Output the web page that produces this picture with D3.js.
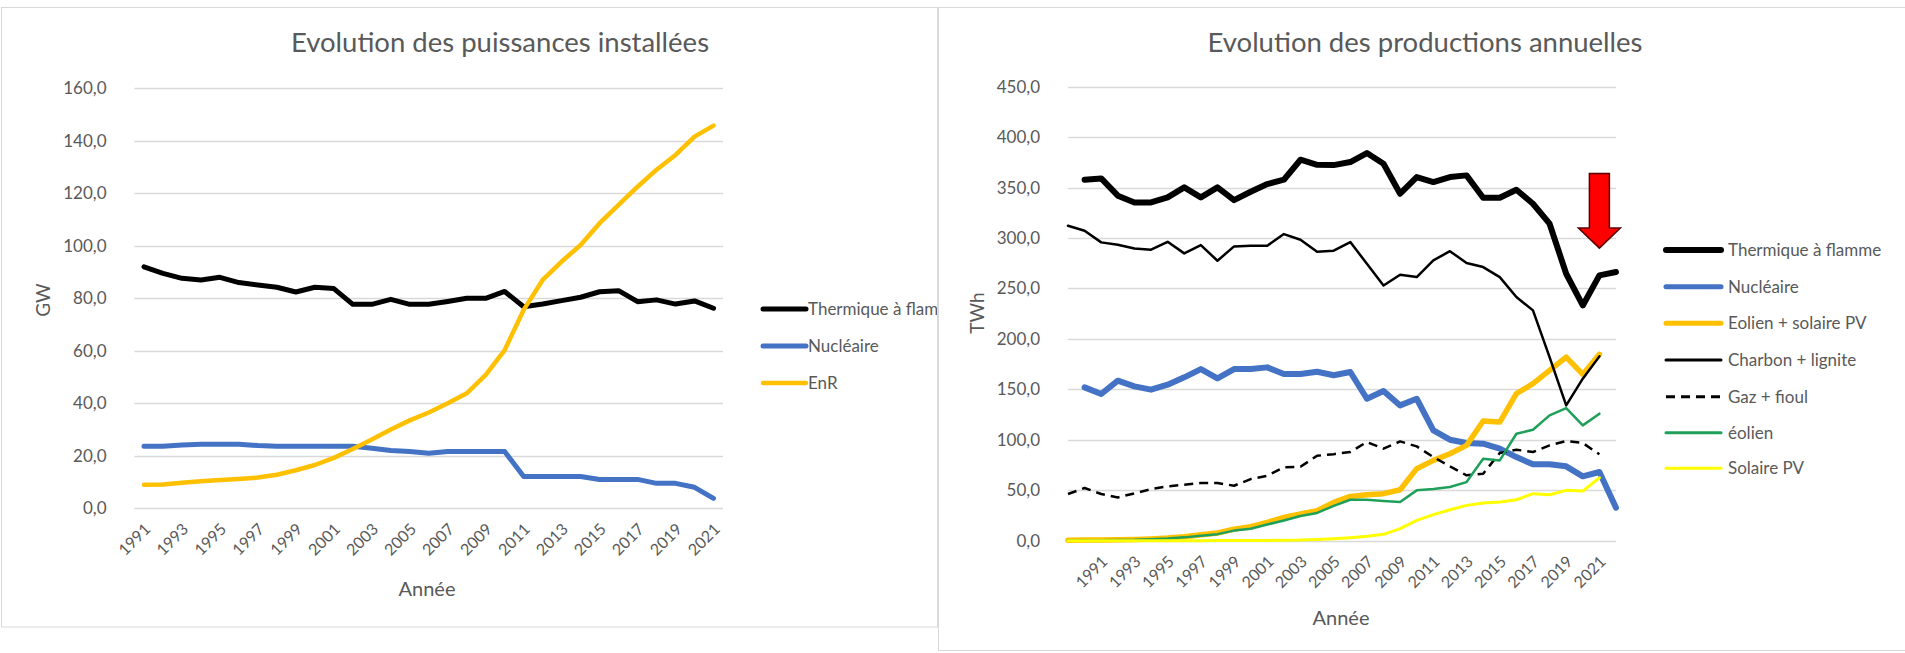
<!DOCTYPE html>
<html>
<head>
<meta charset="utf-8">
<script src="https://cdn.jsdelivr.net/npm/d3@7"></script>
<style>
  html, body { margin: 0; padding: 0; background: #fff; }
  svg { display: block; font-family: Lato, "Open Sans", sans-serif; }
</style>
</head>
<body>
<svg id="chart" width="1905" height="653"></svg>
<script>
// ---- Installed capacity (GW) ----
const capYears = [1991, 1992, 1993, 1994, 1995, 1996, 1997, 1998, 1999, 2000,
  2001, 2002, 2003, 2004, 2005, 2006, 2007, 2008, 2009, 2010,
  2011, 2012, 2013, 2014, 2015, 2016, 2017, 2018, 2019, 2020, 2021];
const capThermique = [92.0, 89.5, 87.6, 87.0, 88.0, 86.0, 85.1, 84.2, 82.4, 84.2,
  83.7, 77.7, 77.7, 79.6, 77.7, 77.7, 78.8, 80.0, 80.0, 82.6,
  76.8, 77.8, 79.1, 80.4, 82.5, 82.9, 78.7, 79.4, 77.8, 79.0, 76.2];
const capNucleaire = [23.6, 23.6, 24.1, 24.4, 24.4, 24.4, 23.9, 23.6, 23.6, 23.6,
  23.6, 23.6, 22.9, 22.0, 21.6, 21.0, 21.6, 21.6, 21.6, 21.6,
  12.1, 12.1, 12.1, 12.1, 11.0, 11.0, 11.0, 9.5, 9.5, 8.0, 3.8];
const capEnR = [9.0, 9.1, 9.7, 10.3, 10.8, 11.2, 11.7, 12.8, 14.5, 16.5,
  19.2, 22.6, 26.2, 30.0, 33.5, 36.5, 40.0, 43.8, 50.8, 60.3,
  75.6, 87.0, 94.0, 100.3, 108.6, 115.6, 122.5, 129.0, 134.6, 141.6, 145.8];
const capTicks = [0, 20, 40, 60, 80, 100, 120, 140, 160];

// ---- Annual production (TWh) ----
const prodCategories = [1989, 1990, 1991, 1992, 1993, 1994, 1995, 1996, 1997, 1998,
  1999, 2000, 2001, 2002, 2003, 2004, 2005, 2006, 2007, 2008,
  2009, 2010, 2011, 2012, 2013, 2014, 2015, 2016, 2017, 2018,
  2019, 2020, 2021, 2022];
// these two series start one category later (1990 → 2022)
const prodThermique = [357.8, 359.1, 342.0, 335.3, 335.3, 340.3, 350.2, 340.3, 350.2, 337.6,
  345.9, 353.5, 357.8, 377.6, 372.6, 372.3, 375.3, 384.2, 373.6, 343.9,
  360.4, 355.5, 360.4, 362.1, 339.9, 339.9, 347.9, 334.0, 314.2, 264.6,
  233.2, 263.0, 266.3];
const prodNucleaire = [152.0, 145.4, 158.6, 153.0, 149.7, 154.6, 161.9, 170.1, 160.9, 170.1,
  170.1, 171.8, 165.2, 165.2, 167.5, 164.0, 167.2, 140.7, 148.3, 134.1,
  140.7, 109.4, 100.1, 96.8, 96.1, 91.2, 82.9, 75.7, 75.7, 73.7,
  63.8, 68.1, 32.7];
// the following series cover 1989 → 2021
const prodEolienSolaire = [0.5, 0.6, 0.8, 1.0, 1.3, 1.8, 2.6, 4.0, 6.0, 7.6,
  11.5, 13.9, 18.2, 23.0, 26.4, 29.7, 38.0, 43.9, 45.6, 46.6,
  50.5, 71.4, 79.6, 86.2, 94.5, 118.6, 117.6, 145.7, 155.6, 168.8,
  182.0, 164.8, 184.7];
const prodCharbon = [312.2, 307.2, 295.7, 293.4, 289.7, 288.4, 296.3, 284.8, 293.0, 277.5,
  291.7, 292.4, 292.4, 303.9, 298.3, 286.4, 287.5, 296.0, 274.5, 253.0,
  263.6, 261.3, 277.8, 287.0, 275.2, 271.2, 261.3, 241.5, 228.3, 182.0,
  134.1, 160.6, 182.7];
const prodGazFioul = [46.3, 52.2, 46.3, 42.9, 46.9, 51.2, 53.8, 55.5, 57.2, 57.2,
  54.5, 61.1, 64.4, 72.7, 73.3, 84.2, 85.8, 87.9, 97.8, 91.2,
  98.4, 93.5, 82.9, 73.7, 64.8, 66.4, 86.9, 90.2, 87.9, 94.5,
  98.8, 96.8, 85.6];
const prodEolien = [0.3, 0.4, 0.5, 0.7, 0.9, 1.5, 2.2, 3.3, 5.0, 6.5,
  10.0, 11.8, 16.0, 20.0, 24.5, 27.5, 34.5, 40.6, 40.6, 39.3,
  38.3, 49.9, 51.2, 53.2, 58.1, 81.3, 79.6, 106.0, 110.0, 124.2,
  131.5, 114.3, 125.9];
const prodSolaire = [0, 0, 0, 0, 0, 0, 0, 0, 0, 0.1,
  0.1, 0.2, 0.3, 0.4, 0.6, 1.3, 2.0, 3.0, 4.3, 6.3,
  11.9, 20.2, 25.8, 30.7, 35.0, 37.3, 38.3, 40.6, 46.6, 45.6,
  49.9, 49.2, 62.4];
const prodTicks = [0, 50, 100, 150, 200, 250, 300, 350, 400, 450];

// odd years shown on both category axes
const yearLabels = [1991, 1993, 1995, 1997, 1999, 2001, 2003, 2005,
  2007, 2009, 2011, 2013, 2015, 2017, 2019, 2021];

// downward arrow on the production chart (category, values in TWh)
const arrowYear = 2021;
const arrowTop = 364, arrowNeck = 310, arrowTip = 290;

const svg = d3.select("#chart");
const grey = "#595959";
const gridColor = "#D9D9D9";
const fmt = v => d3.format(".1f")(v).replace(".", ",");

// chart frames
svg.append("rect").attr("x", 1.5).attr("y", 7.5).attr("width", 936).attr("height", 619.5)
  .attr("fill", "#fff").attr("stroke", gridColor).attr("stroke-width", 1);
svg.append("rect").attr("x", 938.5).attr("y", 7.5).attr("width", 980).attr("height", 643)
  .attr("fill", "#fff").attr("stroke", gridColor).attr("stroke-width", 1);

// helpers
function gridAndY(g, y, ticks, x0, x1) {
  g.append("g").selectAll("line").data(ticks).join("line")
    .attr("x1", x0).attr("x2", x1)
    .attr("y1", d => Math.round(y(d)) + 0.5).attr("y2", d => Math.round(y(d)) + 0.5)
    .attr("stroke", gridColor).attr("stroke-width", 1.3);
  const ax = g.append("g").attr("transform", `translate(${x0},0)`)
    .call(d3.axisLeft(y).tickValues(ticks).tickSize(0).tickPadding(28).tickFormat(fmt));
  ax.select(".domain").remove();
  ax.selectAll("text").attr("fill", grey).attr("font-size", 17)
    .attr("font-family", "Lato, sans-serif");
}
function xLabels(g, x, y0) {
  const ax = g.append("g").attr("transform", `translate(0,${y0})`)
    .call(d3.axisBottom(x).tickValues(yearLabels).tickSize(0));
  ax.select(".domain").remove();
  ax.selectAll("text")
    .attr("x", 0).attr("y", 0).attr("dy", "0.35em")
    .attr("text-anchor", "end")
    .attr("transform", "translate(3,18) rotate(-45)")
    .attr("fill", grey).attr("font-size", 16)
    .attr("font-family", "Lato, sans-serif");
}
function legend(g, items, x0, x1, tx, rows) {
  items.forEach((it, i) => {
    const yy = rows[i];
    g.append("line").attr("x1", x0).attr("x2", x1).attr("y1", yy).attr("y2", yy)
      .attr("stroke", it.color).attr("stroke-width", it.legendWidth || it.width)
      .attr("stroke-linecap", it.dash ? "butt" : "round")
      .attr("stroke-dasharray", it.dash || null);
    g.append("text").attr("x", tx).attr("y", yy).attr("dy", "0.35em")
      .attr("fill", grey).attr("font-size", 17).text(it.name);
  });
}

// ================= Left chart: installed capacity =================
const left = svg.append("g");
const xL = d3.scalePoint().domain(capYears).range([134.5, 723]).padding(0.5);
const yL = d3.scaleLinear().domain([0, 160]).range([508.3, 88.3]);

left.append("text").attr("x", 500).attr("y", 52).attr("text-anchor", "middle")
  .attr("fill", grey).attr("font-size", 27.5).text("Evolution des puissances installées");

gridAndY(left, yL, capTicks, 134.5, 723);
xLabels(left, xL, 508.3);

left.append("text").attr("transform", "translate(43,300) rotate(-90)")
  .attr("text-anchor", "middle").attr("dy", "0.35em")
  .attr("fill", grey).attr("font-size", 19).text("GW");
left.append("text").attr("x", 427).attr("y", 589).attr("dy", "0.35em")
  .attr("text-anchor", "middle").attr("fill", grey).attr("font-size", 20).text("Année");

const capSeries = [
  { name: "Thermique à flamme", values: capThermique, color: "#000000", width: 5 },
  { name: "Nucléaire", values: capNucleaire, color: "#4472C4", width: 5 },
  { name: "EnR", values: capEnR, color: "#FFC000", width: 4.5 }
];
const lineL = d3.line().x((d, i) => xL(capYears[i])).y(d => yL(d));
left.append("g").selectAll("path").data(capSeries).join("path")
  .attr("d", d => lineL(d.values))
  .attr("fill", "none").attr("stroke", d => d.color).attr("stroke-width", d => d.width)
  .attr("stroke-linejoin", "round").attr("stroke-linecap", "round");

svg.append("clipPath").attr("id", "clipLeftLegend")
  .append("rect").attr("x", 740).attr("y", 280).attr("width", 197).attr("height", 130);
const legL = left.append("g").attr("clip-path", "url(#clipLeftLegend)");
legend(legL, capSeries, 763, 806, 808, [309, 346, 383]);

// ================= Right chart: annual production =================
const right = svg.append("g");
const xR = d3.scalePoint().domain(prodCategories).range([1068, 1616]).padding(0);
const yR = d3.scaleLinear().domain([0, 450]).range([540.7, 86.7]);

right.append("text").attr("x", 1425).attr("y", 52).attr("text-anchor", "middle")
  .attr("fill", grey).attr("font-size", 27.5).text("Evolution des productions annuelles");

gridAndY(right, yR, prodTicks, 1068, 1616);
xLabels(right, xR, 540.7);

right.append("text").attr("transform", "translate(977,313) rotate(-90)")
  .attr("text-anchor", "middle").attr("dy", "0.35em")
  .attr("fill", grey).attr("font-size", 19).text("TWh");
right.append("text").attr("x", 1341).attr("y", 618).attr("dy", "0.35em")
  .attr("text-anchor", "middle").attr("fill", grey).attr("font-size", 20).text("Année");

const prodSeries = [
  { name: "Thermique à flamme", values: prodThermique, start: 1990, color: "#000000", width: 6, legendWidth: 6 },
  { name: "Nucléaire", values: prodNucleaire, start: 1990, color: "#4472C4", width: 6, legendWidth: 5 },
  { name: "Eolien + solaire PV", values: prodEolienSolaire, start: 1989, color: "#FFC000", width: 5.5, legendWidth: 5 },
  { name: "Charbon + lignite", values: prodCharbon, start: 1989, color: "#000000", width: 2.5, legendWidth: 3 },
  { name: "Gaz + fioul", values: prodGazFioul, start: 1989, color: "#000000", width: 2.5, legendWidth: 3, dash: "9,6" },
  { name: "éolien", values: prodEolien, start: 1989, color: "#1FA05A", width: 2.5, legendWidth: 3 },
  { name: "Solaire PV", values: prodSolaire, start: 1989, color: "#FFFF00", width: 3, legendWidth: 3 }
];
const lineR = d3.line().x(d => xR(d.year)).y(d => yR(d.v));
right.append("g").selectAll("path").data(prodSeries).join("path")
  .attr("d", s => lineR(s.values.map((v, i) => ({ year: s.start + i, v }))))
  .attr("fill", "none").attr("stroke", d => d.color).attr("stroke-width", d => d.width)
  .attr("stroke-dasharray", d => d.dash || null)
  .attr("stroke-linejoin", "round").attr("stroke-linecap", d => d.dash ? "butt" : "round");

legend(right.append("g"), prodSeries, 1666, 1721, 1728,
  [250, 286.7, 323.3, 360, 396.7, 432.7, 468.3]);

// red arrow pointing down at the last thermal values
const ax0 = xR(arrowYear);
const shaftW = 10, headW = 21;
const arrowPts = [
  [ax0 - shaftW, yR(arrowTop)], [ax0 + shaftW, yR(arrowTop)],
  [ax0 + shaftW, yR(arrowNeck)], [ax0 + headW, yR(arrowNeck)],
  [ax0, yR(arrowTip)],
  [ax0 - headW, yR(arrowNeck)], [ax0 - shaftW, yR(arrowNeck)]
];
right.append("path").attr("d", d3.line()(arrowPts) + "Z")
  .attr("fill", "#FF0000").attr("stroke", "#5a0000").attr("stroke-width", 1.5)
  .attr("stroke-linejoin", "miter");
</script>
</body>
</html>
